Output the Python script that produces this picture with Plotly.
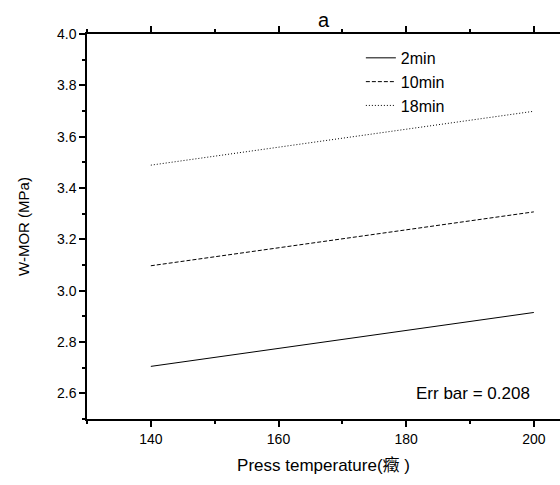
import plotly.graph_objects as go

# Data
temps = [140, 200]
mor_2min = [2.705, 2.915]
mor_10min = [3.097, 3.307]
mor_18min = [3.489, 3.699]
series_names = ["2min", "10min", "18min"]
series_dash = ["solid", "4px,2px", "1px,2px"]
err_text = "Err bar = 0.208"

FONT = "Liberation Sans, Arial, Noto Sans CJK SC, sans-serif"

fig = go.Figure()
for name, vals, dash in zip(series_names, [mor_2min, mor_10min, mor_18min], series_dash):
    fig.add_trace(go.Scatter(
        x=temps, y=vals, mode="lines", name=name,
        line=dict(color="black", width=1, dash=dash),
    ))

axis_common = dict(
    showgrid=False, zeroline=False, showline=True, linecolor="black", linewidth=1.5,
    ticks="outside", ticklen=6, tickwidth=1.5, tickcolor="black",
    tickfont=dict(family=FONT, size=14, color="black"),
)

fig.update_layout(
    width=560, height=485,
    margin=dict(l=87, r=0, t=34, b=66),
    paper_bgcolor="white", plot_bgcolor="white",
    font=dict(family=FONT, color="black"),
    title=dict(text="a", x=0.5, xref="paper", xanchor="center",
               y=1 - 20 / 485, yanchor="middle",
               font=dict(family=FONT, size=20, color="black")),
    xaxis=dict(
        range=[130, 204.1], tick0=140, dtick=20, mirror="ticks",
        minor=dict(dtick=10, tick0=130, ticks="outside", ticklen=3, tickcolor="black", tickwidth=1.5),
        title=dict(text="Press temperature(癥 )", standoff=14,
                   font=dict(family=FONT, size=17, color="black")),
        **axis_common,
    ),
    yaxis=dict(
        range=[2.5, 4.0], tick0=2.6, dtick=0.2, tickformat=".1f", mirror=False,
        minor=dict(dtick=0.1, tick0=2.5, ticks="outside", ticklen=3, tickcolor="black", tickwidth=1.5),
        title=dict(text="W-MOR (MPa)", standoff=24,
                   font=dict(family=FONT, size=15, color="black")),
        **axis_common,
    ),
    legend=dict(
        x=0.579, y=0.982, xanchor="left", yanchor="top",
        bgcolor="rgba(0,0,0,0)", borderwidth=0, tracegroupgap=0,
        font=dict(family=FONT, size=16, color="black"),
    ),
    showlegend=True,
    annotations=[dict(
        text=err_text, xref="paper", yref="paper", x=0.941, y=0.0675,
        xanchor="right", yanchor="middle", showarrow=False,
        font=dict(family=FONT, size=17, color="black"),
    )],
)

fig.write_html("out.html")
